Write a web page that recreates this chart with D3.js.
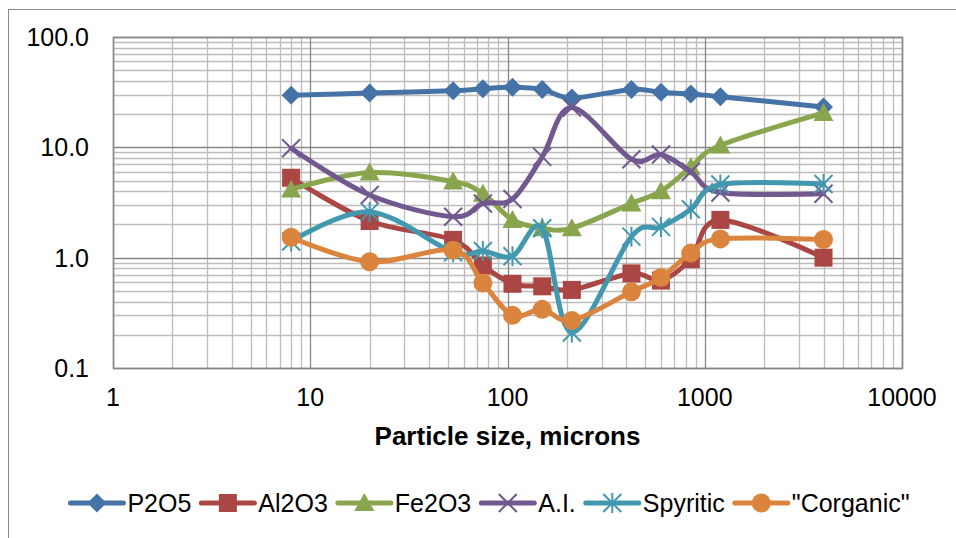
<!DOCTYPE html>
<html>
<head>
<meta charset="utf-8">
<script src="https://cdn.jsdelivr.net/npm/d3@7"></script>
<style>
  body { margin: 0; background: #fff; }
  text { font-family: Arial, "Liberation Sans", sans-serif; fill: #000; }
</style>
</head>
<body>
<div id="chart"></div>
<script>
// particle sizes (microns) and the six series
var sizes = [8, 20, 53, 75, 106, 150, 212, 425, 600, 850, 1200, 4000];
var p2o5 = [29.7, 31, 32.5, 34, 35, 33.5, 28, 33.5, 31.5, 30.5, 28.8, 23.2];
var al2o3 = [5.3, 2.15, 1.45, 0.85, 0.58, 0.55, 0.51, 0.72, 0.62, 0.97, 2.2, 1.0];
var fe2o3 = [4.15, 5.9, 4.9, 3.8, 2.2, 1.85, 1.85, 3.1, 4.0, 6.6, 10.4, 20.5];
var ai = [9.8, 3.7, 2.35, 3.1, 3.4, 8.2, 23, 7.8, 8.6, 6.0, 3.9, 3.8];
var spyritic = [1.4, 2.6, 1.12, 1.15, 1.03, 1.85, 0.21, 1.55, 1.9, 2.75, 4.6, 4.65];
var corganic = [1.53, 0.92, 1.17, 0.59, 0.3, 0.34, 0.27, 0.49, 0.66, 1.1, 1.48, 1.46];

var seriesNames = ["P2O5", "Al2O3", "Fe2O3", "A.I.", "Spyritic", "\"Corganic\""];
var seriesColors = ["#4572A7", "#AA4643", "#89A54E", "#71588F", "#4198AF", "#DB843D"];
var seriesMarkers = ["diamond", "square", "triangle", "cross", "star", "circle"];
var seriesValues = [p2o5, al2o3, fe2o3, ai, spyritic, corganic];

var xTicks = [1, 10, 100, 1000, 10000];
var yTicks = [0.1, 1, 10, 100];

var W = 956, H = 538;
var margin = { top: 37, right: 54, bottom: 170, left: 113 },
  width = W - margin.left - margin.right,
  height = H - margin.top - margin.bottom;

var svg = d3
  .select("#chart")
  .append("svg")
  .attr("width", W)
  .attr("height", H);

// chart frame (only top and left edges fall inside the window)
svg.append("rect")
  .attr("x", 8.5).attr("y", 9.5)
  .attr("width", 960).attr("height", 540)
  .attr("fill", "none")
  .attr("stroke", "#8c8c8c")
  .attr("stroke-width", 1);

var g = svg.append("g")
  .attr("transform", "translate(" + margin.left + "," + margin.top + ")");

var x = d3.scaleLog().domain([1, 10000]).range([0, width]);
var y = d3.scaleLog().domain([0.1, 100]).range([height, 0]);

// minor + major grid
var minorX = [], minorY = [];
for (var d = 1; d < 10000; d *= 10) {
  for (var k = 2; k <= 9; k++) minorX.push(d * k);
}
for (var d2 = 0.1; d2 < 99; d2 *= 10) {
  for (var k2 = 2; k2 <= 9; k2++) minorY.push(d2 * k2);
}

g.selectAll(".vminor").data(minorX).enter().append("line")
  .attr("x1", function (d) { return Math.round(x(d)) + 0.5; })
  .attr("x2", function (d) { return Math.round(x(d)) + 0.5; })
  .attr("y1", 0).attr("y2", height)
  .attr("stroke", "#bcbcbc").attr("stroke-width", 1.3);

g.selectAll(".hminor").data(minorY).enter().append("line")
  .attr("y1", function (d) { return Math.round(y(d)) + 0.5; })
  .attr("y2", function (d) { return Math.round(y(d)) + 0.5; })
  .attr("x1", 0).attr("x2", width)
  .attr("stroke", "#bcbcbc").attr("stroke-width", 1.3);

g.selectAll(".vmajor").data(xTicks).enter().append("line")
  .attr("x1", function (d) { return Math.round(x(d)) + 0.5; })
  .attr("x2", function (d) { return Math.round(x(d)) + 0.5; })
  .attr("y1", 0).attr("y2", height)
  .attr("stroke", "#878787").attr("stroke-width", 1.3);

g.selectAll(".hmajor").data(yTicks).enter().append("line")
  .attr("y1", function (d) { return Math.round(y(d)) + 0.5; })
  .attr("y2", function (d) { return Math.round(y(d)) + 0.5; })
  .attr("x1", 0).attr("x2", width)
  .attr("stroke", "#878787").attr("stroke-width", 1.3);

g.append("rect")
  .attr("x", 0.5).attr("y", 0.5)
  .attr("width", width).attr("height", height)
  .attr("fill", "none")
  .attr("stroke", "#878787")
  .attr("stroke-width", 1.5);

// axis labels
g.selectAll(".ylab").data(yTicks).enter().append("text")
  .attr("x", -24)
  .attr("y", function (d) { return y(d); })
  .attr("dy", "0.36em")
  .attr("text-anchor", "end")
  .style("font-size", "25px")
  .text(function (d) { return d.toFixed(1); });

g.selectAll(".xlab").data(xTicks).enter().append("text")
  .attr("x", function (d) { return x(d); })
  .attr("y", height + 38)
  .attr("text-anchor", "middle")
  .style("font-size", "25px")
  .text(function (d) { return d; });

g.append("text")
  .attr("x", width / 2)
  .attr("y", height + 77)
  .attr("text-anchor", "middle")
  .style("font-size", "26px")
  .style("font-weight", "bold")
  .text("Particle size, microns");

// markers
function drawMarker(sel, type, color) {
  if (type === "diamond") {
    sel.append("path").attr("d", "M0,-9.5L9.5,0L0,9.5L-9.5,0Z").attr("fill", color);
  } else if (type === "square") {
    sel.append("rect").attr("x", -9).attr("y", -9).attr("width", 18).attr("height", 18).attr("fill", color);
  } else if (type === "triangle") {
    sel.append("path").attr("d", "M0,-10L10,8L-10,8Z").attr("fill", color);
  } else if (type === "circle") {
    sel.append("circle").attr("r", 9.5).attr("fill", color);
  } else if (type === "cross") {
    sel.append("path").attr("d", "M-9,-9L9,9M-9,9L9,-9")
      .attr("stroke", color).attr("stroke-width", 2).attr("fill", "none");
  } else if (type === "star") {
    sel.append("path").attr("d", "M-9,-9L9,9M-9,9L9,-9M0,-10L0,10")
      .attr("stroke", color).attr("stroke-width", 2).attr("fill", "none");
  }
}

var line = d3.line()
  .x(function (d) { return x(d[0]); })
  .y(function (d) { return y(d[1]); })
  .curve(d3.curveCardinal.tension(0));

seriesValues.forEach(function (vals, i) {
  var pts = sizes.map(function (s, j) { return [s, vals[j]]; });
  var sg = g.append("g");
  sg.append("path")
    .datum(pts)
    .attr("d", line)
    .attr("fill", "none")
    .attr("stroke", seriesColors[i])
    .attr("stroke-width", 5)
    .attr("stroke-linejoin", "round")
    .attr("stroke-linecap", "round");
  sg.selectAll(".m").data(pts).enter().append("g")
    .attr("transform", function (d) { return "translate(" + x(d[0]) + "," + y(d[1]) + ")"; })
    .each(function () { drawMarker(d3.select(this), seriesMarkers[i], seriesColors[i]); });
});

// legend
var legend = svg.append("g").attr("transform", "translate(0,503)");
var cursor = 0;
seriesNames.forEach(function (name, i) {
  var it = legend.append("g");
  it.append("line")
    .attr("x1", 0).attr("x2", 53)
    .attr("stroke", seriesColors[i])
    .attr("stroke-width", 5)
    .attr("stroke-linecap", "round");
  var mk = it.append("g").attr("transform", "translate(26.5,0)");
  drawMarker(mk, seriesMarkers[i], seriesColors[i]);
  var t = it.append("text")
    .attr("x", 57)
    .attr("dy", "0.36em")
    .style("font-size", "25px")
    .text(name);
  var w = 57 + t.node().getComputedTextLength();
  it.attr("transform", "translate(" + cursor + ",0)");
  cursor += w + 10;
});
var total = cursor - 10;
legend.attr("transform", "translate(" + (490 - total / 2) + ",503)");
</script>
</body>
</html>
